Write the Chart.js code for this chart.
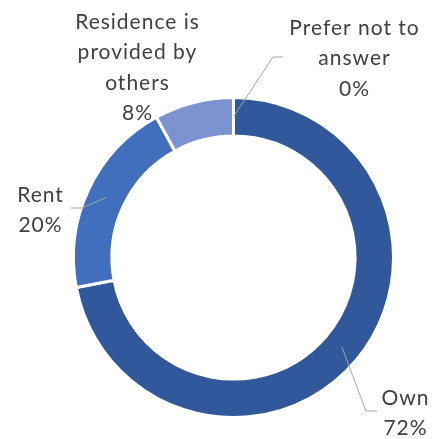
<!DOCTYPE html>
<html>
<head>
<meta charset="utf-8">
<script src="https://cdn.jsdelivr.net/npm/chart.js@4"></script>
<style>
  html, body { margin: 0; padding: 0; background: #ffffff; }
  #wrap { width: 435px; height: 439px; }
</style>
</head>
<body>
<div id="wrap"><canvas id="grafico" width="435" height="439"></canvas></div>
<script>
// Dados do gráfico
const categorias = ["Own", "Rent", "Residence is provided by others", "Prefer not to answer"];
const valores = [72, 20, 8, 0];
const rotulos = [["Own"], ["Rent"], ["Residence is", "provided by", "others"], ["Prefer not to", "answer"]];
const cores = ["#30589A", "#416FBD", "#7B94D1", "#A5B8E0"];

// Posição dos rótulos (centro do texto, primeira linha) e linha guia
const layoutRotulos = [
  { x: 405, y: 398, leader: [[366, 411], [377, 411]] },
  { x: 40, y: 195, leader: [[82, 208], [71, 208]] },
  { x: 137, y: 22, leader: null },
  { x: 354, y: 28, leader: [[273, 57], [283, 57]] }
];

const pluginRotulos = {
  id: "rotulos",
  afterDatasetsDraw(chart) {
    const ctx = chart.ctx;
    const meta = chart.getDatasetMeta(0);
    const total = valores.reduce((a, b) => a + b, 0);
    ctx.save();
    meta.data.forEach((arc, i) => {
      const lay = layoutRotulos[i];
      const p = arc.tooltipPosition();
      if (lay.leader) {
        ctx.beginPath();
        ctx.strokeStyle = "#A6A6A6";
        ctx.lineWidth = 1;
        ctx.moveTo(p.x, p.y);
        lay.leader.forEach(pt => ctx.lineTo(pt[0], pt[1]));
        ctx.stroke();
      }
      const linhas = rotulos[i].concat([Math.round(valores[i] / total * 100) + "%"]);
      ctx.fillStyle = "#404040";
      ctx.font = "21px Lato";
      ctx.letterSpacing = "1px";
      ctx.textAlign = "center";
      ctx.textBaseline = "middle";
      linhas.forEach((t, k) => ctx.fillText(t, lay.x + 0.5, lay.y + k * 30.5));
    });
    ctx.restore();
  }
};

const ctxGrafico = document.getElementById("grafico").getContext("2d");
new Chart(ctxGrafico, {
  type: "doughnut",
  data: {
    labels: categorias,
    datasets: [{
      data: valores,
      backgroundColor: cores,
      borderColor: "#ffffff",
      borderWidth: 3
    }]
  },
  options: {
    responsive: false,
    animation: false,
    cutout: "76%",
    layout: { padding: { top: 96, bottom: 20, left: 72, right: 40 } },
    plugins: {
      legend: { display: false },
      tooltip: { enabled: false }
    }
  },
  plugins: [pluginRotulos]
});
</script>
</body>
</html>
